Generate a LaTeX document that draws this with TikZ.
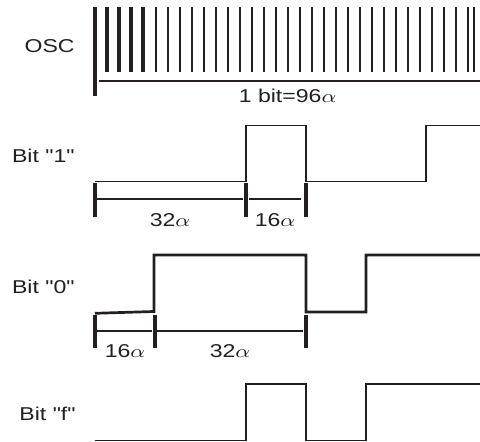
\documentclass[tikz,border=0pt]{standalone}
\usepackage{fontspec}
\setmainfont{Liberation Sans}[Ligatures=TeXOff]
\definecolor{ink}{RGB}{35,31,32}
\newcommand\sxtext[1]{\scalebox{1.24}[1]{#1}}
\begin{document}
\begin{tikzpicture}[x=0.5pt,y=-0.5pt,
  lbl/.style={inner sep=0pt, font=\fontsize{9.3}{11}\selectfont, text=ink},
  wave/.style={draw=ink, line width=0.75pt, line join=miter},
  wavethick/.style={draw=ink, line width=1.35pt, line join=miter},
  tickbar/.style={draw=ink, line width=2pt},
  thinbar/.style={draw=ink, line width=1pt},
  dimline/.style={draw=ink, line width=1pt}]
\useasboundingbox (0,0) rectangle (480,442);
% labels
\node[lbl, anchor=base east] (osc) at (75,53) {\sxtext{OSC}};
\node[lbl, anchor=base east] (b1) at (75,163) {\sxtext{Bit "1"}};
\node[lbl, anchor=base east] (b0) at (75,293) {\sxtext{Bit "0"}};
\node[lbl, anchor=base east] (bf) at (76,420) {\sxtext{Bit "f"}};

% OSC
\draw[tickbar] (94.7,7.3) -- (94.7,95.7);
\foreach \x in {107,119,131,143} \draw[tickbar] (\x,7.3) -- (\x,71.7);
\foreach \k in {0,...,26} \draw[thinbar] ({155.7+12*\k},7.3) -- ({155.7+12*\k},71.7);
\draw[thinbar] (474,7.3) -- (474,71.7);
\draw[dimline] (99,80.8) -- (480,80.8);
\node[lbl, anchor=base] (bitlen) at (287.5,103) {\sxtext{1 bit=96$\alpha$}};

% Bit "1"
\draw[wave] (95,181.7) -- (246,181.7) -- (246,125.7) -- (306,125.7) -- (306,181.7) -- (426,181.7) -- (426,125.7) -- (480,125.7);
\foreach \x in {94.5,246,306} \draw[tickbar] (\x,183.3) -- (\x,217.3);
\draw[dimline] (97,199) -- (243,199);
\draw[dimline] (249,199) -- (301,199);
\node[lbl, anchor=base] (d32a) at (170,227) {\sxtext{32$\alpha$}};
\node[lbl, anchor=base] (d16a) at (275,227) {\sxtext{16$\alpha$}};

% Bit "0"
\draw[wavethick] (95,313.3) -- (154,311.5) -- (154,255) -- (306,255) -- (306,312) -- (366,312) -- (366,255) -- (480,255);
\foreach \x in {94.7,155,306} \draw[tickbar] (\x,315) -- (\x,347.5);
\draw[dimline] (97,331) -- (152,331);
\draw[dimline] (157,331) -- (303,331);
\node[lbl, anchor=base] (d16b) at (125,357) {\sxtext{16$\alpha$}};
\node[lbl, anchor=base] (d32b) at (230,357) {\sxtext{32$\alpha$}};

% Bit "f"
\draw[wave] (95,440.7) -- (246,440.7) -- (246,384) -- (306,384) -- (306,440.7) -- (366,440.7) -- (366,384) -- (480,384);
\end{tikzpicture}
\end{document}
